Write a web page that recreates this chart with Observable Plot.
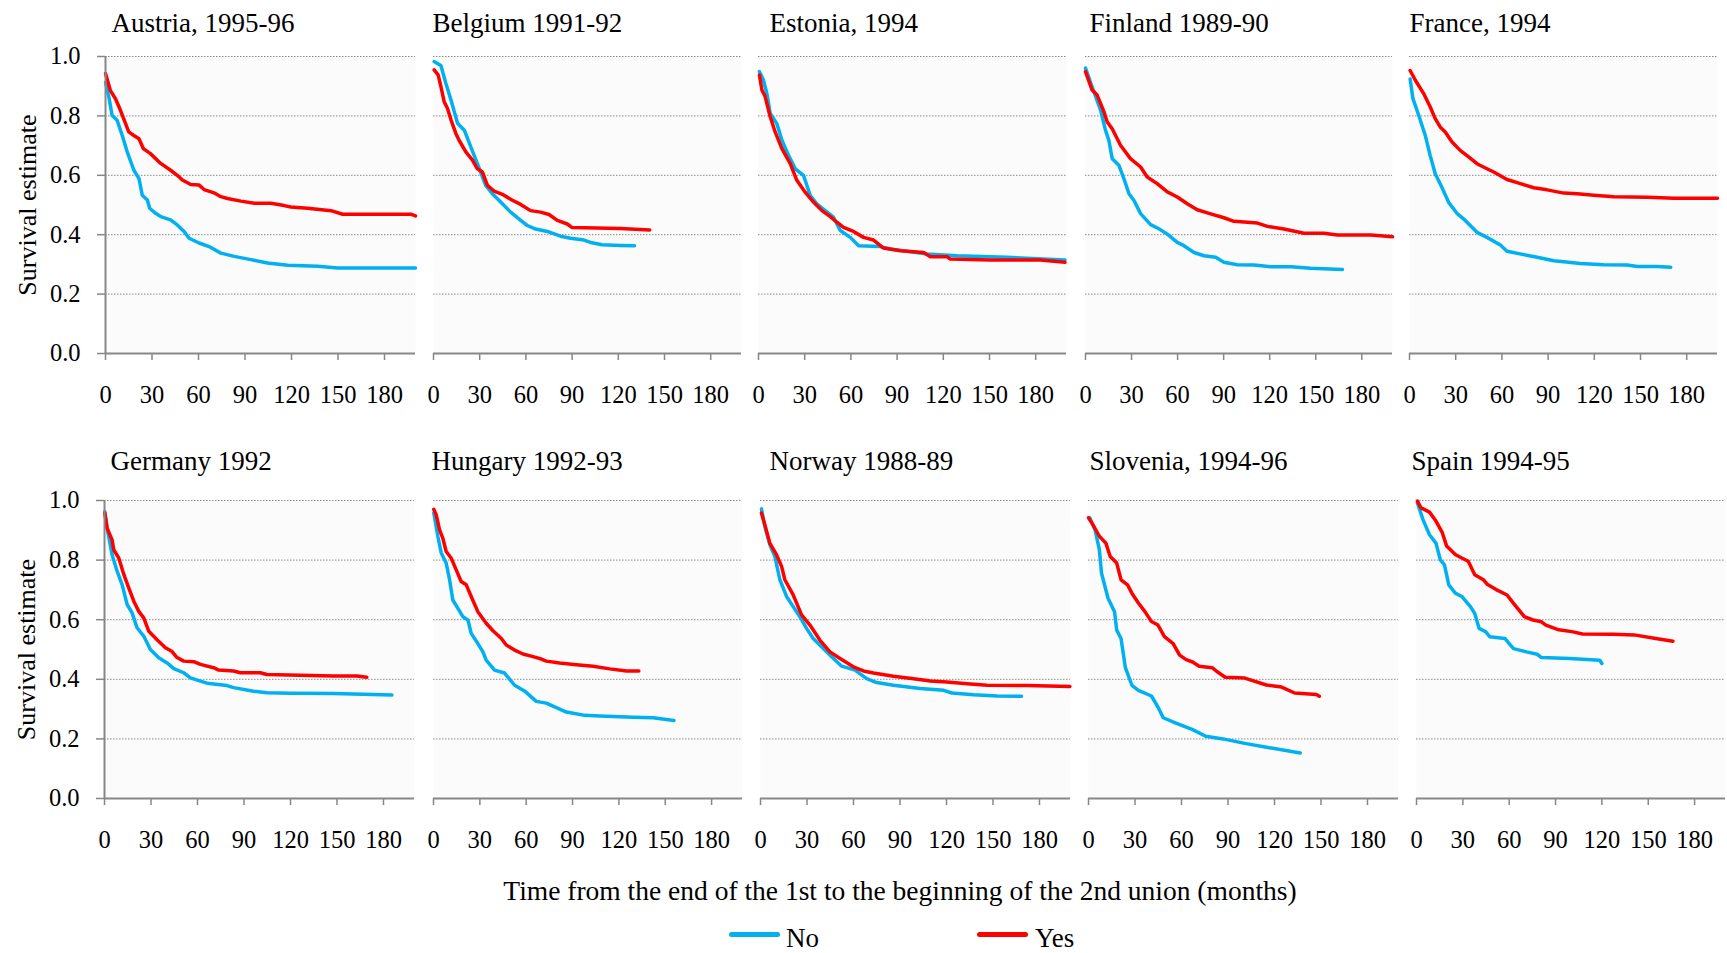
<!DOCTYPE html>
<html>
<head>
<meta charset="utf-8">
<script src="https://cdn.jsdelivr.net/npm/d3@7"></script>
<script src="https://cdn.jsdelivr.net/npm/@observablehq/plot@0.6"></script>
<style>
  html, body { margin: 0; padding: 0; background: #fff; }
  #chart { position: relative; width: 1727px; height: 953px; background: #fff;
           font-family: "Liberation Serif", "Times New Roman", serif; color: #000; }
  .panel { position: absolute; }
  .panel svg text { font-family: "Liberation Serif", "Times New Roman", serif; }
  .lbl { position: absolute; white-space: nowrap; line-height: 1; }
  .sw { position: absolute; height: 5px; border-radius: 3px; }
</style>
</head>
<body>
<div id="chart"></div>
<script>
// ---------- data ----------
const titles = ["Austria, 1995-96", "Belgium 1991-92", "Estonia, 1994", "Finland 1989-90", "France, 1994",
                "Germany 1992", "Hungary 1992-93", "Norway 1988-89", "Slovenia, 1994-96", "Spain 1994-95"];
const groups = ["No", "Yes"];
const colors = ["#00b0f0", "#ff0000"];
const xTicks = [0, 30, 60, 90, 120, 150, 180];
const yTicks = [0, 0.2, 0.4, 0.6, 0.8, 1.0];
const xTitle = "Time from the end of the 1st to the beginning of the 2nd union (months)";
const yTitle = "Survival estimate";

// [months, survival]
const austriaNo = [[0,0.913],[2.2,0.863],[4.3,0.801],[7.5,0.785],[10.8,0.734],[14,0.679],[18.3,0.617],[21.6,0.589],[23.7,0.533],[27,0.517],[28.5,0.489],[32.3,0.472],[35.6,0.461],[42,0.45],[46.3,0.433],[50.7,0.411],[53.9,0.388],[60.4,0.372],[66.8,0.36],[74.4,0.338],[83,0.327],[93.8,0.316],[104.5,0.305],[117.5,0.297],[136.9,0.294],[149.8,0.288],[200,0.288]];
const austriaYes = [[0,0.943],[3.2,0.885],[6.5,0.857],[9.7,0.818],[15,0.746],[18.3,0.734],[21.6,0.723],[24.4,0.69],[29,0.673],[35.6,0.64],[42,0.617],[46.3,0.6],[49.6,0.584],[55,0.569],[60.4,0.567],[63.6,0.552],[70,0.541],[74.4,0.528],[78.7,0.522],[87.3,0.513],[96,0.506],[106.7,0.506],[115.3,0.498],[119.6,0.493],[130.4,0.489],[145.5,0.481],[153,0.469],[197,0.469],[200,0.463]];
const belgiumNo = [[0.4,0.983],[4.8,0.97],[8,0.91],[11.4,0.853],[15.6,0.775],[20,0.752],[24.2,0.696],[28.5,0.639],[33.9,0.566],[38.2,0.538],[43.6,0.51],[50.1,0.476],[56.6,0.448],[60.9,0.431],[66.3,0.419],[73.9,0.411],[82.5,0.395],[89,0.388],[97.7,0.382],[102,0.374],[109.5,0.366],[121.4,0.364],[130.5,0.363]];
const belgiumYes = [[0.4,0.955],[3,0.938],[4.8,0.899],[6.9,0.848],[9.1,0.825],[11.4,0.786],[14.5,0.741],[16.6,0.718],[21,0.679],[25.3,0.651],[28.5,0.622],[31.8,0.611],[35,0.566],[39.3,0.547],[44.7,0.536],[51.2,0.516],[56.6,0.502],[63,0.481],[69.5,0.476],[75,0.468],[80.4,0.448],[86.9,0.436],[90,0.424],[121.4,0.421],[140.4,0.416]];
const estoniaNo = [[0.6,0.949],[3.2,0.921],[5.4,0.876],[7.6,0.808],[11.9,0.774],[15.2,0.718],[19.5,0.667],[23.9,0.622],[29.2,0.6],[33.6,0.532],[37.9,0.504],[43.3,0.481],[48.7,0.459],[53.1,0.414],[59.6,0.391],[65,0.363],[79,0.36],[85.6,0.352],[96.4,0.344],[109.4,0.335],[128.9,0.329],[161.4,0.324],[199,0.315]];
const estoniaYes = [[0.6,0.938],[2.2,0.887],[4.3,0.865],[7.6,0.797],[10.8,0.746],[15.2,0.69],[20.6,0.639],[24.9,0.583],[30.3,0.543],[35.7,0.51],[41.2,0.481],[46.6,0.461],[50.9,0.442],[55.2,0.425],[61.7,0.411],[68.2,0.391],[74.7,0.382],[81.2,0.355],[92.1,0.346],[107.2,0.34],[111.6,0.326],[122.4,0.326],[124.5,0.318],[150.5,0.315],[183,0.315],[199,0.307]];
const finlandNo = [[0,0.961],[4.3,0.898],[9.8,0.82],[13,0.752],[15.2,0.718],[17.4,0.656],[21.7,0.634],[25,0.589],[28.3,0.538],[31.5,0.516],[35.9,0.471],[42.4,0.434],[47.8,0.42],[53.3,0.402],[59.8,0.374],[64.1,0.363],[70.7,0.34],[77.2,0.329],[84.8,0.324],[90.2,0.307],[98.9,0.299],[109.8,0.298],[120.7,0.292],[133.7,0.292],[146.7,0.287],[167.4,0.283]];
const finlandYes = [[0,0.949],[4.3,0.887],[7.6,0.87],[12,0.814],[14.1,0.78],[17.4,0.757],[22.8,0.701],[29.3,0.656],[35.9,0.628],[40.2,0.594],[46.7,0.572],[53.3,0.544],[59.8,0.527],[66.3,0.504],[72.8,0.484],[81.5,0.47],[90.2,0.457],[96.7,0.445],[112,0.439],[118.5,0.428],[129.3,0.419],[142.4,0.405],[155.4,0.405],[164.1,0.399],[185.9,0.399],[200,0.393]];
const franceNo = [[0.4,0.924],[2.2,0.859],[5.9,0.803],[10.2,0.735],[13.4,0.667],[16.7,0.605],[21,0.56],[25.4,0.509],[30.8,0.472],[36.2,0.448],[43.8,0.408],[50.3,0.391],[59,0.365],[63.3,0.344],[74.2,0.333],[82.9,0.324],[93.7,0.312],[100.2,0.309],[111,0.303],[126.2,0.299],[141.4,0.298],[147.9,0.293],[160.9,0.293],[169.6,0.29]];
const franceYes = [[0.4,0.953],[3.7,0.921],[9.1,0.876],[13.4,0.831],[16.7,0.791],[19.9,0.763],[23.2,0.746],[27.5,0.713],[32.9,0.684],[38.4,0.662],[43.8,0.639],[50.3,0.622],[54.7,0.611],[63.3,0.586],[72,0.572],[80.7,0.558],[89.4,0.551],[100.2,0.54],[108.9,0.538],[119.7,0.533],[132.7,0.528],[154.4,0.526],[171.8,0.523],[200,0.523]];
const germanyNo = [[0.2,0.963],[1.7,0.907],[4.9,0.818],[8.2,0.762],[11.4,0.717],[14.6,0.651],[17.8,0.623],[21,0.573],[25.3,0.545],[29.6,0.5],[35,0.472],[40.4,0.455],[44.7,0.436],[51.1,0.422],[55.4,0.405],[61.9,0.394],[66.2,0.387],[79,0.379],[83.3,0.372],[96.2,0.36],[104.8,0.355],[119.8,0.353],[147.8,0.352],[185.4,0.347]];
const germanyYes = [[0.2,0.958],[1.7,0.907],[4.9,0.868],[6,0.834],[9.2,0.807],[12.5,0.751],[15.7,0.706],[18.9,0.662],[22.1,0.628],[25.3,0.606],[28.6,0.561],[33.9,0.533],[39.3,0.506],[43.6,0.493],[46.8,0.473],[51.1,0.461],[57.6,0.459],[61.9,0.45],[70.4,0.439],[73.7,0.431],[83.3,0.428],[87.6,0.422],[100.5,0.422],[104.8,0.416],[126.3,0.414],[147.8,0.411],[162.8,0.411],[169.2,0.407]];
const hungaryNo = [[0.2,0.958],[2.8,0.88],[5,0.824],[8.2,0.79],[10.4,0.734],[12.5,0.666],[15.8,0.638],[19,0.61],[22.3,0.599],[24.4,0.554],[28.7,0.52],[32,0.492],[34.1,0.464],[39.5,0.431],[46,0.421],[52.5,0.38],[58.9,0.361],[66.5,0.326],[73,0.32],[79.5,0.305],[86,0.29],[97.9,0.279],[107.6,0.277],[129.2,0.273],[142.2,0.271],[155.6,0.262]];
const hungaryYes = [[0.2,0.97],[1.7,0.953],[3.9,0.902],[6,0.874],[8.2,0.829],[11.4,0.807],[14.7,0.767],[17.9,0.728],[21.2,0.717],[24.4,0.678],[28.7,0.627],[34.1,0.588],[38.5,0.563],[43.9,0.537],[47.1,0.515],[52.5,0.498],[57.9,0.485],[64.4,0.476],[69.8,0.468],[73,0.461],[81.6,0.455],[92.5,0.449],[103.3,0.444],[114.1,0.435],[124.9,0.428],[132.9,0.428]];
const norwayNo = [[0.6,0.972],[2.8,0.913],[6,0.852],[9.3,0.812],[12.5,0.734],[16.8,0.678],[21.1,0.644],[25.4,0.61],[29.7,0.571],[34,0.537],[39.4,0.509],[45.9,0.476],[52.4,0.444],[61,0.431],[68.5,0.402],[75,0.389],[85.8,0.38],[103,0.369],[118.2,0.363],[123.5,0.354],[137.5,0.348],[152.6,0.344],[168.4,0.343]];
const norwayYes = [[0.6,0.958],[2.8,0.919],[6,0.857],[10.3,0.818],[13.6,0.779],[15.7,0.734],[21.1,0.683],[26.5,0.616],[31.9,0.582],[38.4,0.531],[44.8,0.492],[51.3,0.47],[59.9,0.442],[66.4,0.428],[72.9,0.421],[85.8,0.41],[98.8,0.402],[109.6,0.394],[120.3,0.391],[133.3,0.385],[146.2,0.38],[172,0.379],[199.6,0.376]];
const sloveniaNo = [[0.8,0.942],[4.2,0.902],[7,0.835],[8.4,0.756],[12.6,0.672],[16.8,0.627],[18.2,0.565],[21,0.537],[23.8,0.439],[28,0.38],[32.2,0.363],[40.6,0.344],[44.8,0.307],[48.2,0.271],[56,0.254],[67.2,0.231],[75.6,0.209],[86.8,0.2],[100.8,0.185],[114.8,0.172],[136.6,0.153]];
const sloveniaYes = [[0,0.942],[2.8,0.919],[7,0.88],[11.2,0.857],[14,0.812],[18.2,0.79],[21,0.734],[25.2,0.717],[28,0.689],[32.2,0.656],[36.4,0.627],[40.6,0.594],[44.8,0.582],[49,0.543],[54.6,0.52],[58.8,0.481],[63,0.466],[67.2,0.458],[71.4,0.444],[79.8,0.439],[82.6,0.427],[88.2,0.407],[100.8,0.404],[114.8,0.381],[124.6,0.374],[133,0.354],[147,0.349],[148.9,0.343]];
const spainNo = [[0.6,0.992],[4.2,0.936],[8.4,0.885],[12.6,0.857],[15.4,0.801],[18.1,0.784],[20.9,0.717],[25.1,0.689],[29.3,0.678],[34.9,0.644],[37.7,0.621],[40.5,0.571],[44.7,0.56],[47.4,0.543],[57.2,0.537],[60,0.52],[62.8,0.503],[71.2,0.492],[78.1,0.484],[80.9,0.473],[99.1,0.47],[118.6,0.464],[120,0.453]];
const spainYes = [[0.6,0.998],[2.8,0.976],[8.4,0.961],[12.6,0.931],[16.7,0.892],[19.5,0.847],[25.1,0.819],[29.3,0.807],[33.5,0.796],[37.7,0.751],[43.3,0.734],[46,0.718],[51.6,0.701],[58.6,0.683],[62.8,0.655],[69.8,0.61],[75.4,0.599],[80.9,0.593],[83.7,0.582],[92.1,0.566],[100.5,0.56],[107.5,0.552],[127,0.551],[140.9,0.549],[154.9,0.537],[166,0.528]];

const seriesNo  = [austriaNo, belgiumNo, estoniaNo, finlandNo, franceNo, germanyNo, hungaryNo, norwayNo, sloveniaNo, spainNo];
const seriesYes = [austriaYes, belgiumYes, estoniaYes, finlandYes, franceYes, germanyYes, hungaryYes, norwayYes, sloveniaYes, spainYes];

// ---------- layout (pixels) ----------
const frameL = [105, 433, 758, 1085, 1409, 104, 433, 760, 1088, 1416];
const frameR = [415, 741, 1066, 1392, 1717, 414, 742, 1070, 1398, 1725];
const frameT = [56, 500];
const frameB = [353, 798];
const titleDx = [6, -1, 11, 4, 0, 6, -2, 9, 1, -5];
const titleDy = [-25, -31];
const FONT = "'Liberation Serif', 'Times New Roman', Times, serif";
const AXIS_GRAY = "#878787";

const chart = document.getElementById("chart");

for (let i = 0; i < 10; i++) {
  const row = i < 5 ? 0 : 1;
  const first = i % 5 === 0;
  const mL = first ? frameL[i] : 16;
  const mR = 2;
  const mT = row === 0 ? 56 : 70;
  const mB = 62;
  const w = frameR[i] - frameL[i];
  const h = frameB[row] - frameT[row];
  const rows = [
    ...seriesNo[i].map(([t, s]) => ({t, s, g: groups[0]})),
    ...seriesYes[i].map(([t, s]) => ({t, s, g: groups[1]}))
  ];
  const marks = [
    Plot.frame({fill: "#fbfbfb", stroke: null}),
    Plot.gridY({ticks: yTicks.slice(1), stroke: "#8a8a8a", strokeOpacity: 1, strokeWidth: 1, strokeDasharray: "1.5,1.5"}),
    Plot.ruleY([0], {stroke: AXIS_GRAY, strokeWidth: 2}),
    Plot.axisX({ticks: xTicks, tickSize: 7, tickPadding: 25, fontSize: 24.5, fontFamily: FONT, stroke: AXIS_GRAY, strokeWidth: 1.5, fill: "#000", label: null, tickFormat: d => String(d)}),
    Plot.line(rows, {x: "t", y: "s", stroke: "g", z: "g", strokeWidth: 3.5, strokeLinejoin: "round", strokeLinecap: "round"}),
    Plot.text([titles[i]], {frameAnchor: "top-left", dx: titleDx[i], dy: titleDy[row], lineAnchor: "bottom", textAnchor: "start", fontSize: 27, fontFamily: FONT, fill: "#000"})
  ];
  if (first) {
    marks.push(
      Plot.ruleX([0], {stroke: AXIS_GRAY, strokeWidth: 2}),
      Plot.axisY({ticks: yTicks, tickFormat: ".1f", tickSize: 8, tickPadding: 17, fontSize: 24.5, fontFamily: FONT, stroke: AXIS_GRAY, strokeWidth: 1.5, fill: "#000", label: null}),
      Plot.text([yTitle], {frameAnchor: "left", rotate: -90, dx: -70, lineAnchor: "bottom", textAnchor: "middle", fontSize: 26, fontFamily: FONT, fill: "#000"})
    );
  } else {
    marks.push(Plot.axisY({ticks: [], label: null}));
  }
  const svg = Plot.plot({
    width: mL + w + mR,
    height: mT + h + mB,
    marginLeft: mL, marginRight: mR, marginTop: mT, marginBottom: mB,
    x: {domain: [0, 200]},
    y: {domain: [0, 1]},
    color: {domain: groups, range: colors},
    style: {fontFamily: FONT, background: "transparent", color: "#000", overflow: "visible"},
    marks
  });
  const div = document.createElement("div");
  div.className = "panel";
  div.style.left = (frameL[i] - mL) + "px";
  div.style.top = (frameT[row] - mT) + "px";
  div.appendChild(svg);
  chart.appendChild(div);
}

// x axis title
const xt = document.createElement("div");
xt.className = "lbl";
xt.style.cssText += "left:400px;width:1000px;text-align:center;top:877px;font-size:27.5px;";
xt.textContent = xTitle;
chart.appendChild(xt);

// legend
const legendSwX = [729, 977];
const legendTxtX = [786, 1035];
groups.forEach((g, k) => {
  const sw = document.createElement("div");
  sw.className = "sw";
  sw.style.cssText += `left:${legendSwX[k]}px;width:51px;top:932px;background:${colors[k]};`;
  chart.appendChild(sw);
  const t = document.createElement("div");
  t.className = "lbl";
  t.style.cssText += `left:${legendTxtX[k]}px;top:925px;font-size:27px;`;
  t.textContent = g;
  chart.appendChild(t);
});
</script>
</body>
</html>
